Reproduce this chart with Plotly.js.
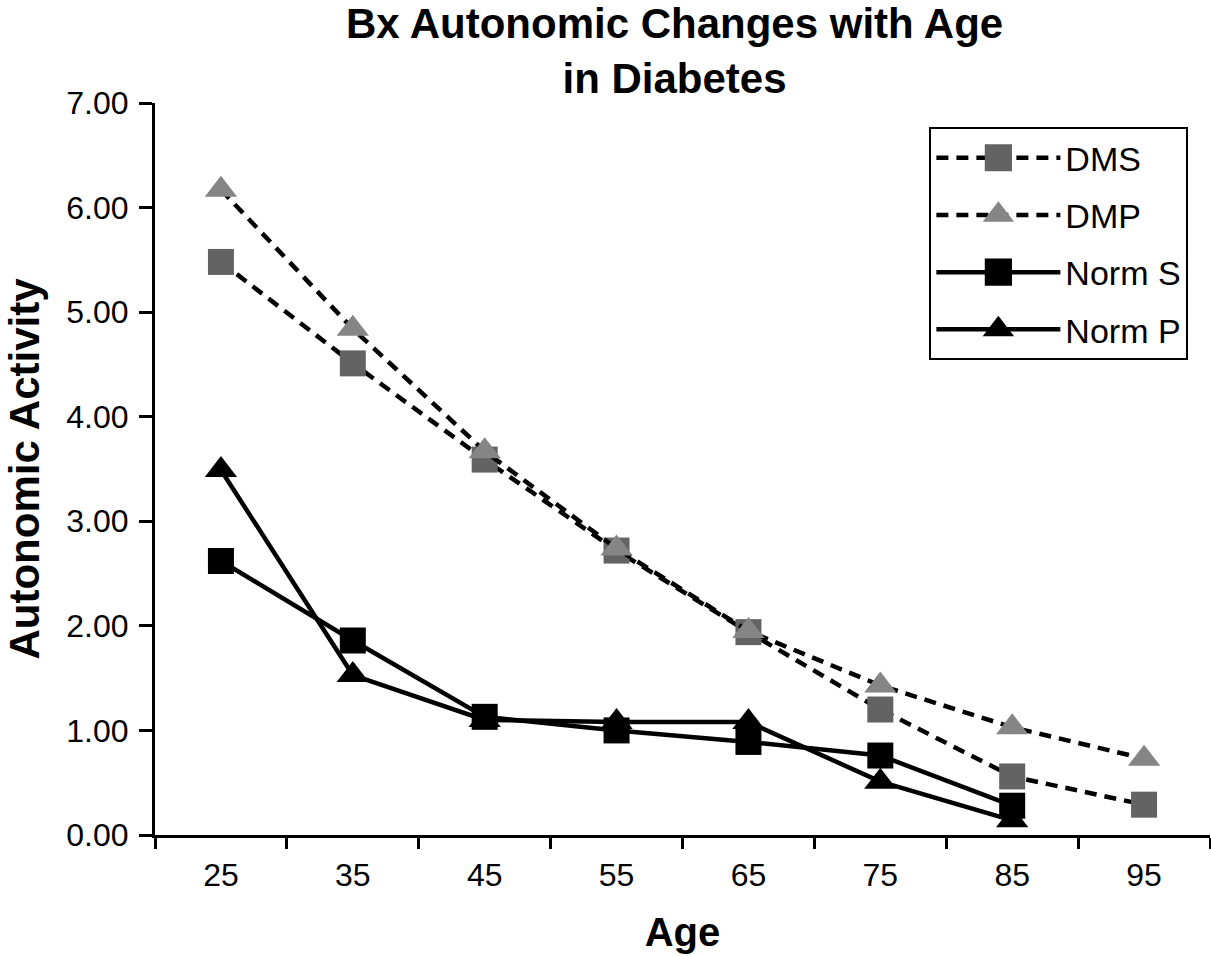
<!DOCTYPE html>
<html>
<head>
<meta charset="utf-8">
<script src="https://cdn.plot.ly/plotly-3.0.1.min.js"></script>
<style>
html,body{margin:0;padding:0;background:#fff;}
#chart{width:1211px;height:956px;}
</style>
</head>
<body>
<div id="chart"></div>
<script>
var ages = ["25", "35", "45", "55", "65", "75", "85", "95"];
var dms   = [5.48, 4.51, 3.59, 2.72, 1.94, 1.20, 0.56, 0.29];
var dmp   = [6.17, 4.84, 3.67, 2.74, 1.95, 1.43, 1.03, 0.73];
var normS = [2.62, 1.86, 1.13, 1.00, 0.89, 0.76, 0.28];
var normP = [3.49, 1.53, 1.10, 1.08, 1.08, 0.51, 0.14];

var FONT = "Liberation Sans, Arial, Helvetica, sans-serif";

function tr(name, y, dash, sym, col, grp) {
  return {
    type: "scatter", mode: "lines+markers", name: name,
    x: ages.slice(0, y.length), y: y,
    legendgroup: grp,
    line: {color: "#000", width: 4.5, dash: dash},
    marker: {symbol: sym, size: sym === "square" ? 26 : 28, color: col, line: {width: 0}}
  };
}

var data = [
  tr("DMS", dms, "12px,8px", "square", "#636363", "g1"),
  tr("DMP", dmp, "12px,8px", "triangle-up", "#858585", "g2"),
  tr("Norm S", normS, "solid", "square", "#000000", "g3"),
  tr("Norm P", normP, "solid", "triangle-up", "#000000", "g4")
];

var layout = {
  width: 1211, height: 956,
  margin: {l: 155, r: 1, t: 103, b: 121},
  paper_bgcolor: "#fff", plot_bgcolor: "#fff",
  font: {family: FONT, color: "#000"},
  title: {
    text: "<b>Bx Autonomic Changes with Age<br>in Diabetes</b>",
    font: {family: FONT, size: 42, color: "#000"},
    xref: "container", x: 0.557, xanchor: "center",
    yref: "container", y: 0.960, yanchor: "top"
  },
  xaxis: {
    type: "category",
    tickson: "boundaries",
    range: [-0.5, 7.5],
    showgrid: false, zeroline: false,
    showline: true, linecolor: "#000", linewidth: 3,
    ticks: "outside", ticklen: 11, tickwidth: 3, tickcolor: "#000",
    tickfont: {family: FONT, size: 32, color: "#000"},
    ticklabelstandoff: 10,
    title: {text: "<b>Age</b>", font: {family: FONT, size: 40, color: "#000"}, standoff: 26}
  },
  yaxis: {
    range: [0, 7], dtick: 1, tick0: 0,
    tickformat: ".2f",
    showgrid: false, zeroline: false,
    showline: true, linecolor: "#000", linewidth: 3,
    ticks: "outside", ticklen: 13, tickwidth: 3, tickcolor: "#000",
    tickfont: {family: FONT, size: 32, color: "#000"},
    ticklabelstandoff: 4,
    title: {text: "<b>Autonomic Activity</b>", font: {family: FONT, size: 42, color: "#000"}, standoff: 14}
  },
  legend: {
    x: 0.734, xanchor: "left", y: 0.967, yanchor: "top",
    bgcolor: "#fff", bordercolor: "#000", borderwidth: 2,
    font: {family: FONT, size: 34, color: "#000"},
    itemwidth: 124,
    tracegroupgap: 10,
    traceorder: "grouped"
  },
  showlegend: true
};

Plotly.newPlot("chart", data, layout, {displayModeBar: false, staticPlot: true}).then(function () {
  var pts = document.querySelectorAll(".legend path.scatterpts");
  pts.forEach(function (p) {
    var t = p.getAttribute("transform") || "";
    p.setAttribute("transform", t + " scale(1.7)");
  });
});
</script>
</body>
</html>
